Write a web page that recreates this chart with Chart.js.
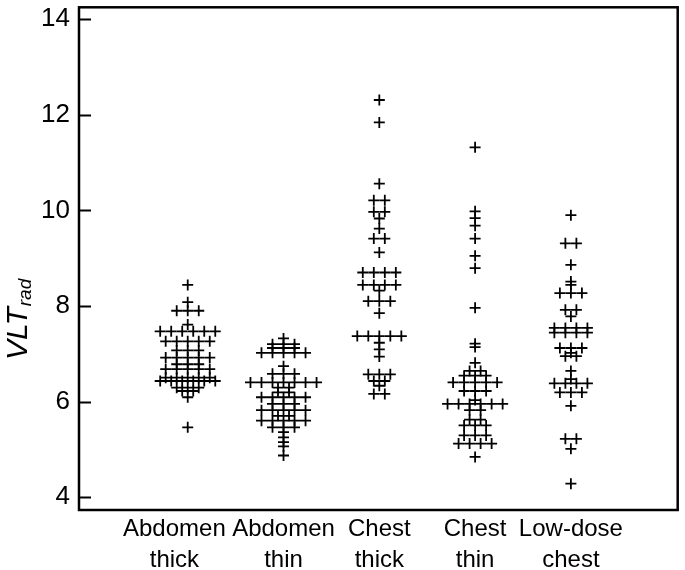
<!DOCTYPE html>
<html><head><meta charset="utf-8">
<script src="https://cdn.jsdelivr.net/npm/chart.js@4.4.0/dist/chart.umd.min.js"></script>
<style>html,body{margin:0;padding:0;background:#fff;}#wrap{width:685px;height:570px;}</style>
</head><body><div id="wrap"><canvas id="c" width="685" height="570"></canvas></div>
<script>
// ---- data ----
const categories = [["Abdomen    ", "thick    "], ["Abdomen", "thin"], ["Chest", "thick"], ["Chest", "thin"], ["Low-dose", "chest"]];
const abdomenThick = [8.44, 8.08, 7.90, 7.90, 7.90, 7.61, 7.47, 7.47, 7.47, 7.47, 7.47, 7.47,
  7.26, 7.26, 7.26, 7.26, 7.26, 7.07, 7.07, 7.07, 6.92, 6.92, 6.92, 6.92, 6.92, 6.78, 6.78, 6.78,
  6.68, 6.68, 6.68, 6.68, 6.68, 6.50, 6.50, 6.50, 6.50, 6.50, 6.43, 6.43, 6.43, 6.43, 6.43, 6.43,
  6.29, 6.29, 6.29, 6.22, 6.22, 6.09, 5.46];
const abdomenThin = [7.32, 7.20, 7.20, 7.20, 7.12, 7.12, 7.12, 7.02, 7.02, 7.02, 7.02, 7.02,
  6.74, 6.58, 6.58, 6.58, 6.40, 6.40, 6.40, 6.40, 6.40, 6.40, 6.40, 6.29, 6.29, 6.19, 6.19,
  6.09, 6.09, 6.09, 6.09, 6.09, 5.95, 5.95, 5.95, 5.82, 5.82, 5.82, 5.82, 5.82, 5.70, 5.70,
  5.60, 5.60, 5.60, 5.60, 5.60, 5.46, 5.46, 5.46, 5.36, 5.25, 5.15, 5.06, 4.87];
const chestThick = [12.31, 11.84, 10.56, 10.21, 10.21, 9.97, 9.97, 9.83, 9.62, 9.41, 9.41, 9.12,
  8.70, 8.70, 8.70, 8.70, 8.44, 8.44, 8.44, 8.44, 8.32, 8.10, 8.10, 8.10, 7.85,
  7.37, 7.37, 7.37, 7.37, 7.37, 7.23, 7.09, 6.94, 6.57, 6.57, 6.57, 6.43, 6.43, 6.33, 6.16, 6.16];
const chestThin = [11.32, 9.98, 9.84, 9.68, 9.41, 9.05, 8.79, 7.96, 7.21, 7.14, 6.81, 6.64, 6.64,
  6.54, 6.54, 6.54, 6.40, 6.40, 6.40, 6.40, 6.40, 6.22, 6.22, 6.22, 6.03,
  5.95, 5.95, 5.95, 5.95, 5.95, 5.95, 5.82, 5.82, 5.62, 5.62, 5.50, 5.50, 5.50,
  5.29, 5.29, 5.29, 5.12, 5.12, 5.12, 5.12, 4.84];
const lowDoseChest = [9.90, 9.31, 9.31, 8.86, 8.51, 8.44, 8.27, 8.27, 8.27, 7.92, 7.92, 7.78,
  7.54, 7.54, 7.54, 7.54, 7.44, 7.44, 7.44, 7.44, 7.12, 7.12, 7.12, 7.02, 6.95, 6.95, 6.64, 6.47,
  6.38, 6.38, 6.38, 6.38, 6.19, 6.19, 6.19, 5.91, 5.22, 5.22, 5.01, 4.28];
const seriesValues = [abdomenThick, abdomenThin, chestThick, chestThin, lowDoseChest];
const yTicks = [4, 6, 8, 10, 12, 14];

// ---- swarm layout (computed from the values) ----
const STEP = 0.115;
function swarm(values, center) {
  const groups = new Map();
  values.forEach(v => { const k = v.toFixed(2); if (!groups.has(k)) groups.set(k, []); groups.get(k).push(v); });
  const pts = [];
  groups.forEach(arr => {
    const n = arr.length;
    arr.forEach((v, i) => pts.push({ x: center + (i - (n - 1) / 2) * STEP, y: v }));
  });
  return pts;
}
const datasets = seriesValues.map((vals, i) => ({
  data: swarm(vals, i + 1),
  pointStyle: 'cross', pointRadius: 5.5, pointBorderWidth: 1.8,
  borderColor: '#000', backgroundColor: '#000', showLine: false
}));

const FONT = '"Liberation Sans", Arial, sans-serif';
const framePlugin = {
  id: 'frame',
  afterDraw(chart) {
    const { ctx, chartArea: a } = chart;
    const ys = chart.scales.y;
    ctx.save();
    ctx.strokeStyle = '#000';
    ctx.lineWidth = 2;
    yTicks.forEach(t => {
      const p = Math.round(ys.getPixelForValue(t)) + 0.5;
      ctx.beginPath(); ctx.moveTo(a.left, p); ctx.lineTo(a.left + 12, p); ctx.stroke();
    });
    ctx.lineWidth = 2.5;
    ctx.strokeRect(a.left, a.top, a.right - a.left, a.bottom - a.top);
    // y title VLT_rad
    ctx.fillStyle = '#000';
    ctx.translate(27, 360);
    ctx.rotate(-Math.PI / 2);
    ctx.textBaseline = 'alphabetic';
    ctx.textAlign = 'left';
    ctx.font = 'italic 30px ' + FONT;
    ctx.fillText('VLT', 0, 0);
    const w = ctx.measureText('VLT').width;
    ctx.font = 'italic 19px ' + FONT;
    ctx.fillText('rad', w + 1, 4);
    ctx.restore();
  }
};

new Chart(document.getElementById('c'), {
  type: 'scatter',
  data: { datasets },
  options: {
    responsive: false, animation: false, devicePixelRatio: 1,
    layout: { padding: { top: 4, right: 6, left: 0, bottom: 0 } },
    plugins: { legend: { display: false }, tooltip: { enabled: false } },
    scales: {
      x: {
        type: 'linear', min: -0.135, max: 6.115,
        afterBuildTicks: s => { s.ticks = categories.map((c, i) => ({ value: i + 1 })); },
        afterFit: s => { s.height = 60; s.paddingLeft = 0; s.paddingRight = 0; },
        grid: { display: false, drawTicks: false },
        border: { display: false },
        ticks: {
          autoSkip: false, maxRotation: 0, minRotation: 0, padding: 4,
          color: '#000', font: { family: FONT, size: 24, lineHeight: 1.3 },
          callback: v => categories[Math.round(v) - 1]
        }
      },
      y: {
        min: 3.73, max: 14.25,
        afterBuildTicks: s => { s.ticks = yTicks.map(v => ({ value: v })); },
        afterFit: s => { s.width = 79; s.paddingTop = 0; s.paddingBottom = 0; },
        grid: { display: false, drawTicks: false },
        border: { display: false },
        ticks: { padding: 9, color: '#000', font: { family: FONT, size: 26 }, callback: v => String(v) }
      }
    }
  },
  plugins: [framePlugin]
});
</script></body></html>
